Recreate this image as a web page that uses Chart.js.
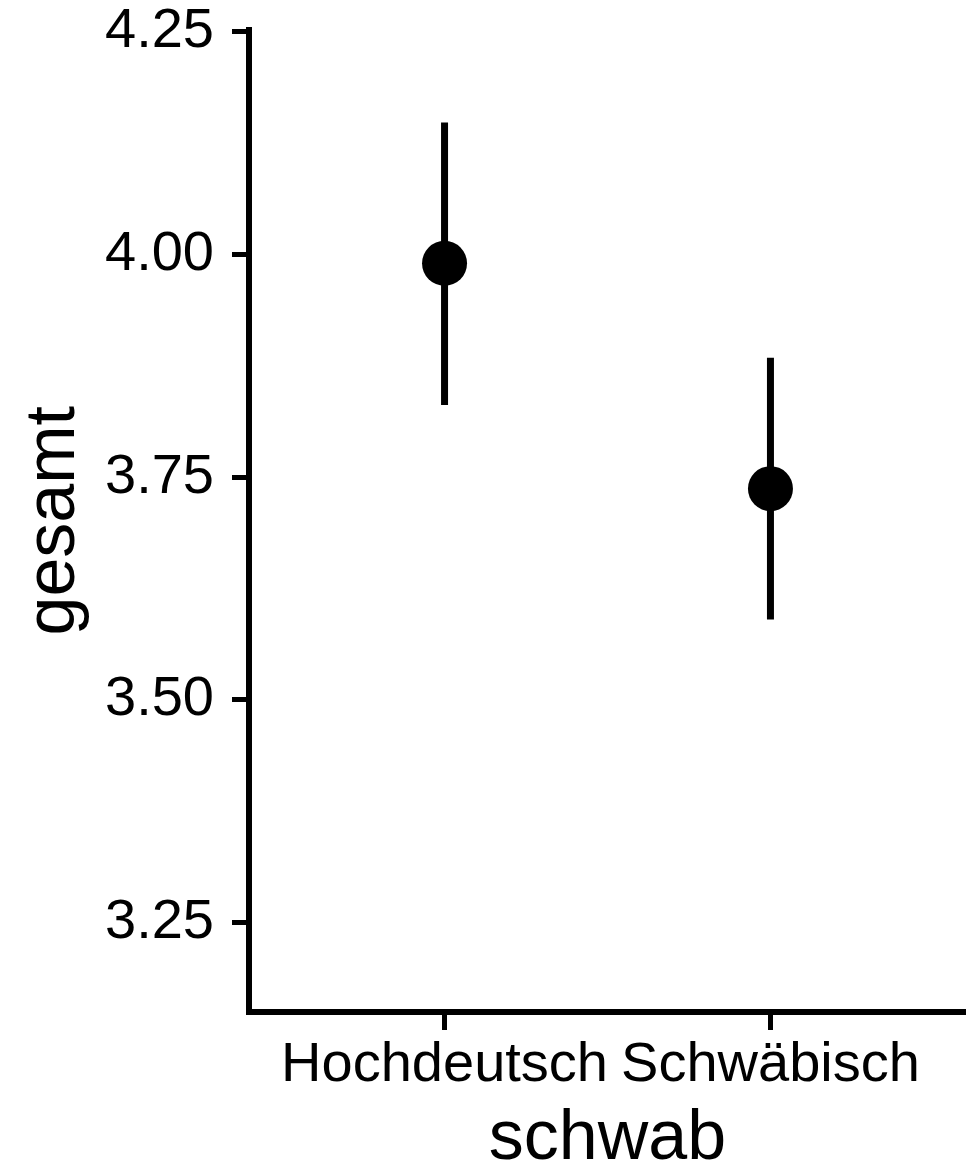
<!DOCTYPE html>
<html>
<head>
<meta charset="utf-8">
<script src="https://cdn.jsdelivr.net/npm/chart.js@4/dist/chart.umd.min.js"></script>
<style>
  html, body { margin: 0; padding: 0; background: #ffffff; }
  #wrap { width: 966px; height: 1175px; }
</style>
</head>
<body>
<div id="wrap"><canvas id="c" width="966" height="1175"></canvas></div>
<script>
// ---- data ----
const categories = ["Hochdeutsch", "Schwäbisch"];
const means      = [3.990, 3.737];
const lowerCI    = [3.831, 3.590];
const upperCI    = [4.148, 3.884];
const yTickValues = [3.25, 3.50, 3.75, 4.00, 4.25];
const xTitle = "schwab";
const yTitle = "gesamt";

const FONT = "'Liberation Sans', Arial, Helvetica, sans-serif";

const pointData = categories.map((c, i) => ({ x: i + 1, y: means[i] }));
const errorSets = categories.map((c, i) => ({
  type: 'line',
  label: c + ' CI',
  data: [{ x: i + 1, y: lowerCI[i] }, { x: i + 1, y: upperCI[i] }],
  borderColor: '#000000',
  borderWidth: 7,
  borderCapStyle: 'butt',
  pointRadius: 0,
  fill: false
}));

function zeroPad(s) {
  s.paddingTop = 0; s.paddingBottom = 0; s.paddingLeft = 0; s.paddingRight = 0;
}

new Chart(document.getElementById('c'), {
  type: 'scatter',
  data: {
    datasets: [
      {
        label: 'mean',
        data: pointData,
        backgroundColor: '#000000',
        borderColor: '#000000',
        borderWidth: 0,
        pointRadius: 22.5,
        pointHoverRadius: 22.5
      },
      ...errorSets
    ]
  },
  options: {
    responsive: false,
    devicePixelRatio: 1,
    animation: false,
    layout: { autoPadding: false, padding: { left: 0, right: 0, top: 29.5, bottom: 0 } },
    plugins: { legend: { display: false }, tooltip: { enabled: false } },
    scales: {
      x: {
        type: 'linear',
        min: 0.4,
        max: 2.6,
        afterBuildTicks: (s) => { s.ticks = categories.map((c, i) => ({ value: i + 1 })); },
        afterFit: (s) => { s.height = 163; zeroPad(s); },
        border: { display: true, color: '#000000', width: 6 },
        grid: { display: true, drawOnChartArea: false, drawTicks: true, tickLength: 18, color: '#000000', lineWidth: 5 },
        ticks: {
          autoSkip: false,
          maxRotation: 0,
          padding: 8,
          color: '#000000',
          font: { family: FONT, size: 56, lineHeight: 1 },
          callback: (v) => categories[Math.round(v) - 1]
        },
        title: {
          display: true,
          text: xTitle,
          color: '#000000',
          font: { family: FONT, size: 70, lineHeight: 1 },
          padding: { top: 0, bottom: 0 }
        }
      },
      y: {
        type: 'linear',
        min: 3.1494,
        max: 4.2525,
        afterBuildTicks: (s) => { s.ticks = yTickValues.map(v => ({ value: v })); },
        afterFit: (s) => { s.width = 249; zeroPad(s); },
        border: { display: true, color: '#000000', width: 6 },
        grid: { display: true, drawOnChartArea: false, drawTicks: true, tickLength: 17, color: '#000000', lineWidth: 5 },
        ticks: {
          padding: 18,
          color: '#000000',
          font: { family: FONT, size: 56, lineHeight: 1 },
          callback: (v) => Number(v).toFixed(2)
        },
        title: {
          display: true,
          text: yTitle,
          color: '#000000',
          font: { family: FONT, size: 70, lineHeight: 1 },
          padding: { top: 20, bottom: 0 }
        }
      }
    }
  }
});
</script>
</body>
</html>
